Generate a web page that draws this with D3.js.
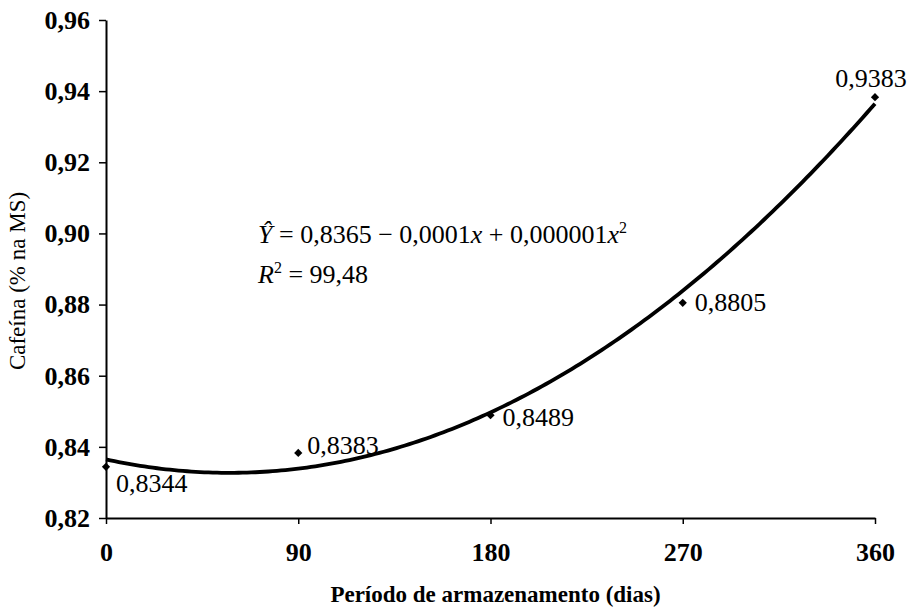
<!DOCTYPE html>
<meta charset="utf-8">
<script src="https://d3js.org/d3.v7.min.js"></script>
<style>
  body { margin: 0; background: #fff; }
</style>
<body>
<div id="my_dataviz"></div>
<script>

  // data
  var days = [0, 90, 180, 270, 360];
  var caffeine = [0.8344, 0.8383, 0.8489, 0.8805, 0.9383];
  var pointLabels = ["0,8344", "0,8383", "0,8489", "0,8805", "0,9383"];
  var xTicks = [0, 90, 180, 270, 360];
  var yTicks = [0.82, 0.84, 0.86, 0.88, 0.90, 0.92, 0.94, 0.96];

  var serif = "'Liberation Serif', 'Times New Roman', Times, serif";

  // set the dimensions and margins of the graph
  var margin = { top: 20, right: 40, bottom: 92, left: 106 },
    width = 915 - margin.left - margin.right,
    height = 610 - margin.top - margin.bottom;

  var svg = d3.select("#my_dataviz")
    .append("svg")
    .attr("width", 915)
    .attr("height", 610)
    .style("font-family", serif)
    .append("g")
    .attr("transform", "translate(" + margin.left + "," + margin.top + ")");

  var x = d3.scaleLinear().domain([0, 360]).range([0, width]);
  var y = d3.scaleLinear().domain([0.82, 0.96]).range([height, 0]);

  var fmt = function (d) { return d3.format(".2f")(d).replace(".", ","); };

  // axes
  svg.append("g")
    .attr("transform", "translate(0," + height + ")")
    .call(d3.axisBottom(x).tickValues(xTicks).tickSize(6).tickPadding(19).tickSizeOuter(0));

  svg.append("g")
    .call(d3.axisLeft(y).tickValues(yTicks).tickFormat(fmt).tickSize(7).tickPadding(9).tickSizeOuter(0));

  svg.selectAll(".tick text")
    .attr("font-family", serif)
    .style("font-family", serif)
    .style("font-size", "26px")
    .style("font-weight", "bold");
  svg.selectAll(".domain").attr("stroke", "#000").attr("stroke-width", 2);
  svg.selectAll(".tick line").attr("stroke", "#000").attr("stroke-width", 1.5);

  // quadratic least squares fit of the points (trend line)
  function quadFit(xs, ys) {
    var s = [0, 0, 0, 0, 0], t = [0, 0, 0];
    xs.forEach(function (xv, i) {
      for (var k = 0; k < 5; k++) s[k] += Math.pow(xv, k);
      for (var k2 = 0; k2 < 3; k2++) t[k2] += Math.pow(xv, k2) * ys[i];
    });
    var A = [[s[0], s[1], s[2], t[0]], [s[1], s[2], s[3], t[1]], [s[2], s[3], s[4], t[2]]];
    for (var i = 0; i < 3; i++) {
      for (var j = i + 1; j < 3; j++) {
        var f = A[j][i] / A[i][i];
        for (var c = i; c < 4; c++) A[j][c] -= f * A[i][c];
      }
    }
    var b = [0, 0, 0];
    for (var i2 = 2; i2 >= 0; i2--) {
      var v = A[i2][3];
      for (var c2 = i2 + 1; c2 < 3; c2++) v -= A[i2][c2] * b[c2];
      b[i2] = v / A[i2][i2];
    }
    return b;
  }
  var coef = quadFit(days, caffeine);
  var curveX = d3.range(0, 361, 2);

  svg.append("path")
    .datum(curveX)
    .attr("d", d3.line()
      .x(function (d) { return x(d) })
      .y(function (d) { return y(coef[0] + coef[1] * d + coef[2] * d * d) }))
    .attr("fill", "none")
    .attr("stroke", "#000")
    .attr("stroke-width", 3.8);

  // points (small diamonds)
  svg.selectAll(".pt")
    .data(days)
    .enter()
    .append("path")
    .attr("d", d3.symbol().type(d3.symbolSquare).size(34))
    .attr("transform", function (d, i) { return "translate(" + x(d) + "," + y(caffeine[i]) + ")rotate(45)"; })
    .attr("fill", "#000");

  // point labels
  var labelOffsets = [[10, 25], [9, 1], [12, 11], [12, 8], [-4, -10]];
  svg.selectAll(".lbl")
    .data(days)
    .enter()
    .append("text")
    .attr("x", function (d, i) { return x(d) + labelOffsets[i][0]; })
    .attr("y", function (d, i) { return y(caffeine[i]) + labelOffsets[i][1]; })
    .attr("text-anchor", function (d, i) { return i == 4 ? "middle" : "start"; })
    .style("font-size", "26px")
    .text(function (d, i) { return pointLabels[i]; });

  // equation
  var eq = svg.append("text")
    .attr("x", 152)
    .attr("y", 223)
    .style("font-size", "26px");
  eq.append("tspan").style("font-style", "italic").text("Ŷ");
  eq.append("tspan").text(" = 0,8365 − 0,0001");
  eq.append("tspan").style("font-style", "italic").text("x");
  eq.append("tspan").text(" + 0,000001");
  eq.append("tspan").style("font-style", "italic").text("x");
  eq.append("tspan").attr("dy", -10).style("font-size", "16px").text("2");

  var r2 = svg.append("text")
    .attr("x", 152)
    .attr("y", 263)
    .style("font-size", "26px");
  r2.append("tspan").style("font-style", "italic").text("R");
  r2.append("tspan").attr("dy", -10).style("font-size", "16px").text("2");
  r2.append("tspan").attr("dy", 10).text(" = 99,48");

  // axis titles
  svg.append("text")
    .attr("x", width / 2 + 5)
    .attr("y", height + 84)
    .attr("text-anchor", "middle")
    .style("font-size", "23px")
    .style("font-weight", "bold")
    .text("Período de armazenamento (dias)");

  svg.append("text")
    .attr("transform", "translate(-81," + (height / 2 + 12) + ")rotate(-90)")
    .attr("text-anchor", "middle")
    .style("font-size", "23px")
    .text("Cafeína (% na MS)");

</script>
</body>
